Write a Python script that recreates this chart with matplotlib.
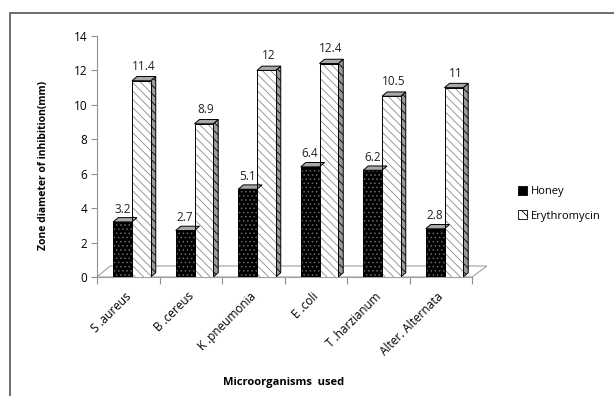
import matplotlib.pyplot as plt
from matplotlib.patches import Polygon, Rectangle, Patch

# datos
organismos = ["S .aureus", "B .cereus", "K .pneumonia", "E .coli", "T .harzianum", "Alter. Alternata"]
miel = [3.2, 2.7, 5.1, 6.4, 6.2, 2.8]
eritromicina = [11.4, 8.9, 12, 12.4, 10.5, 11]
etiquetas_y = [0, 2, 4, 6, 8, 10, 12, 14]

plt.rcParams['font.family'] = ['Open Sans', 'DejaVu Sans']
plt.rcParams['hatch.linewidth'] = 0.6

fig = plt.figure(figsize=(6.14, 3.96), dpi=100)
ax = fig.add_axes([97 / 614, 1 - 277 / 396, 375 / 614, 241 / 396])

ancho = 0.3
dx, dy = 0.08, 0.25  # profundidad falsa 3D


def barra_3d(x, h, cara, hatch, col_hatch, lado, hatch_lado):
    ax.bar(x, h, width=ancho, color=cara, edgecolor=col_hatch, hatch=hatch,
           linewidth=0, zorder=3)
    ax.bar(x, h, width=ancho, fill=False, edgecolor='black', linewidth=0.7, zorder=4)
    x0, x1 = x - ancho / 2, x + ancho / 2
    # cara lateral
    ax.add_patch(Polygon([(x1, 0), (x1 + dx, dy), (x1 + dx, h + dy), (x1, h)],
                         closed=True, facecolor=lado, edgecolor='black',
                         hatch=hatch_lado, linewidth=0.7, zorder=2, clip_on=False))
    # cara superior
    ax.add_patch(Polygon([(x0, h), (x0 + dx, h + dy), (x1 + dx, h + dy), (x1, h)],
                         closed=True, facecolor='#a8a8a8', edgecolor='black',
                         linewidth=0.7, zorder=4, clip_on=False))


# piso
ax.add_patch(Polygon([(-0.5, 0), (5.5, 0), (5.74, 0.64), (-0.29, 0.64)], closed=True,
                     facecolor='white', edgecolor='#a0a0a0', linewidth=0.8,
                     zorder=1, clip_on=False))

for i in range(len(organismos)):
    xm = i - 0.09
    xe = i + 0.21
    barra_3d(xm, miel[i], 'black', '....', '#6a6a6a', '#202020', None)
    barra_3d(xe, eritromicina[i], 'white', '\\\\\\\\', '#8a8a8a', '#9a9a9a', '\\\\\\\\')
    ax.text(xm, miel[i] + 0.75, str(miel[i]), ha='center', va='center',
            fontsize=8.5, color='#222222', zorder=5)
    ax.text(xe + 0.03, eritromicina[i] + 0.85, f"{eritromicina[i]:g}", ha='center',
            va='center', fontsize=8.5, color='#222222', zorder=5)

ax.set_xlim(-0.5, 5.5)
ax.set_ylim(0, 14)
ax.set_yticks(etiquetas_y)
ax.tick_params(axis='y', labelsize=8.5, length=4, color='#909090', pad=3)
ax.set_xticks([i - 0.5 for i in range(7)])
ax.set_xticklabels([])
ax.tick_params(axis='x', length=5, color='#909090')
for i, nombre in enumerate(organismos):
    ax.text(i - 0.06, -0.75, nombre, rotation=45, rotation_mode='anchor', ha='right',
            va='top', fontsize=8.5)

for lado in ['top', 'right']:
    ax.spines[lado].set_visible(False)
ax.spines['left'].set_color('#909090')
ax.spines['bottom'].set_color('#a0a0a0')
ax.patch.set_alpha(0)

fig.text(44 / 614, 1 - 165 / 396, "Zone diameter of inhibition(mm)", rotation=90,
         ha='center', va='center', fontsize=7.5, fontweight='bold')
fig.text(284 / 614, 1 - 383 / 396, "Microorganisms  used", ha='center', va='center',
         fontsize=8, fontweight='bold')

manejadores = [Patch(facecolor='black', edgecolor='black', label='Honey'),
               Patch(facecolor='white', edgecolor='black', hatch='\\\\\\', label='Erythromycin')]
leg = fig.legend(handles=manejadores, loc='upper left', bbox_to_anchor=(508 / 614, 1 - 176 / 396),
                 frameon=False, fontsize=8, handlelength=0.8, handleheight=0.8,
                 handletextpad=0.4, labelspacing=1.2)
for h in leg.legend_handles:
    h.set_linewidth(0.6)

# marco exterior
fig.add_artist(Rectangle((10 / 614, -0.1), 1.0, 1 - 13 / 396 + 0.1, transform=fig.transFigure,
                         fill=False, edgecolor='#555555', linewidth=1.2))

fig.savefig('out.png', dpi=100)
